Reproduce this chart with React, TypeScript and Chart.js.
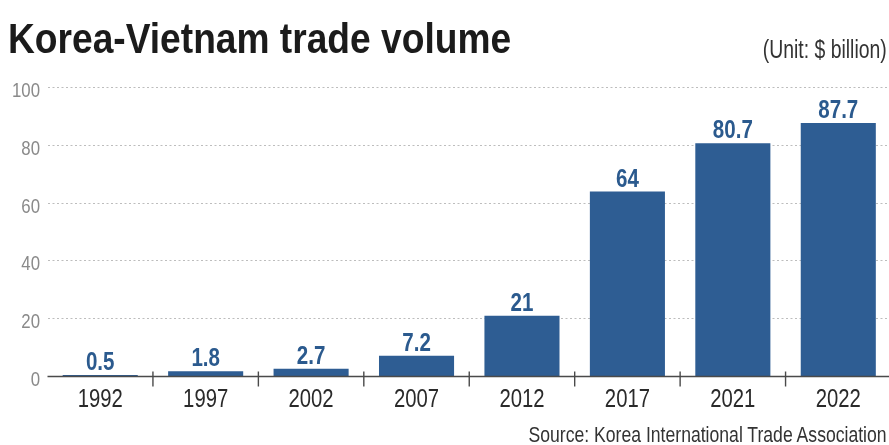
import React, { useEffect, useRef } from "react";
import { Chart, registerables } from "chart.js";

Chart.register(...registerables);

const years = ["1992", "1997", "2002", "2007", "2012", "2017", "2021", "2022"];
const tradeVolume = [0.5, 1.8, 2.7, 7.2, 21, 64, 80.7, 87.7];
const yTicks = [0, 20, 40, 60, 80, 100];
const titleText = "Korea-Vietnam trade volume";
const unitText = "(Unit: $ billion)";
const sourceText = "Source: Korea International Trade Association";

const SANS = "'Liberation Sans', Arial, sans-serif";
const BAR_COLOR = "#2e5d93";
const LABEL_COLOR = "#2b5a8e";

function drawCondensed(
  ctx: CanvasRenderingContext2D,
  text: string,
  x: number,
  y: number,
  sx: number,
  align: CanvasTextAlign
) {
  ctx.save();
  ctx.translate(x, y);
  ctx.scale(sx, 1);
  ctx.textAlign = align;
  ctx.textBaseline = "alphabetic";
  ctx.fillText(text, 0, 0);
  ctx.restore();
}

const decorPlugin = {
  id: "axisDecor",
  afterDatasetsDraw(chart: any) {
    const ctx: CanvasRenderingContext2D = chart.ctx;
    const x = chart.scales.x;
    const y = chart.scales.y;
    const y0 = y.getPixelForValue(0);
    ctx.save();
    // baseline axis
    ctx.strokeStyle = "#4a4a4a";
    ctx.lineWidth = 1.6;
    ctx.beginPath();
    ctx.moveTo(chart.chartArea.left, y0);
    ctx.lineTo(chart.width, y0);
    ctx.stroke();
    // separators between categories
    ctx.lineWidth = 1.4;
    for (let i = 0; i < x.ticks.length - 1; i++) {
      const xb = (x.getPixelForTick(i) + x.getPixelForTick(i + 1)) / 2;
      ctx.beginPath();
      ctx.moveTo(xb, y0 - 5);
      ctx.lineTo(xb, y0 + 10);
      ctx.stroke();
    }
    // value labels
    const meta = chart.getDatasetMeta(0);
    ctx.fillStyle = LABEL_COLOR;
    ctx.font = `bold 26px ${SANS}`;
    meta.data.forEach((bar: any, i: number) => {
      drawCondensed(ctx, String(tradeVolume[i]), bar.x, bar.y - 5, 0.79, "center");
    });
    // x tick labels
    ctx.fillStyle = "#2a2a2a";
    ctx.font = `26px ${SANS}`;
    x.ticks.forEach((t: any, i: number) => {
      drawCondensed(ctx, String(x.getLabelForValue(t.value)), x.getPixelForTick(i), y0 + 30.5, 0.78, "center");
    });
    // y tick labels
    ctx.fillStyle = "#8a8a8a";
    ctx.font = `20px ${SANS}`;
    y.ticks.forEach((t: any) => {
      drawCondensed(ctx, String(t.value), chart.chartArea.left - 7.5, y.getPixelForValue(t.value) + 9.5, 0.84, "right");
    });
    ctx.restore();
  },
};

export default function App() {
  const ref = useRef<HTMLCanvasElement | null>(null);

  useEffect(() => {
    if (!ref.current) return;
    const chart = new Chart(ref.current, {
      type: "bar",
      data: {
        labels: years,
        datasets: [
          {
            data: tradeVolume,
            backgroundColor: BAR_COLOR,
            borderWidth: 0,
            barPercentage: 0.89,
            categoryPercentage: 0.8,
          },
        ],
      },
      options: {
        responsive: false,
        animation: false,
        devicePixelRatio: 1,
        layout: { padding: { left: 0, right: 1, top: 87.5, bottom: 28.5 } },
        plugins: {
          legend: { display: false },
          tooltip: { enabled: false },
          title: { display: false },
        },
        scales: {
          x: {
            grid: { display: false },
            border: { display: false },
            ticks: { display: false, autoSkip: false, maxRotation: 0 },
            afterFit: (s: any) => {
              s.height = 40;
            },
          },
          y: {
            min: 0,
            max: 100,
            afterBuildTicks: (s: any) => {
              s.ticks = yTicks.map((v) => ({ value: v }));
            },
            grid: {
              color: (c: any) => (c.tick && c.tick.value === 0 ? "rgba(0,0,0,0)" : "#bdbdbd"),
              lineWidth: 1,
              drawTicks: false,
            },
            border: { display: false, dash: [2, 2.5] },
            ticks: { display: false },
            afterFit: (s: any) => {
              s.width = 47.5;
            },
          },
        },
      },
      plugins: [decorPlugin],
    } as any);
    return () => chart.destroy();
  }, []);

  return (
    <div
      style={{
        position: "fixed",
        left: 0,
        top: 0,
        width: 889,
        height: 445,
        overflow: "hidden",
        background: "#fff",
      }}
    >
      <canvas
        ref={ref}
        width={892}
        height={445}
        style={{ position: "absolute", left: 0, top: 0, width: 892, height: 445 }}
      />
      <div
        style={{
          position: "absolute",
          left: 8,
          top: 16.6,
          fontFamily: SANS,
          fontWeight: 700,
          fontSize: 43,
          lineHeight: "43px",
          whiteSpace: "nowrap",
          transform: "scaleX(0.864)",
          transformOrigin: "left top",
          color: "#1b1b1b",
        }}
      >
        {titleText}
      </div>
      <div
        style={{
          position: "absolute",
          right: 2,
          top: 37,
          fontFamily: SANS,
          fontSize: 25,
          lineHeight: "25px",
          whiteSpace: "nowrap",
          transform: "scaleX(0.776)",
          transformOrigin: "right top",
          color: "#333",
        }}
      >
        {unitText}
      </div>
      <div
        style={{
          position: "absolute",
          right: 2,
          top: 424.4,
          fontFamily: SANS,
          fontSize: 22,
          lineHeight: "22px",
          whiteSpace: "nowrap",
          transform: "scaleX(0.8)",
          transformOrigin: "right top",
          color: "#333",
        }}
      >
        {sourceText}
      </div>
    </div>
  );
}
